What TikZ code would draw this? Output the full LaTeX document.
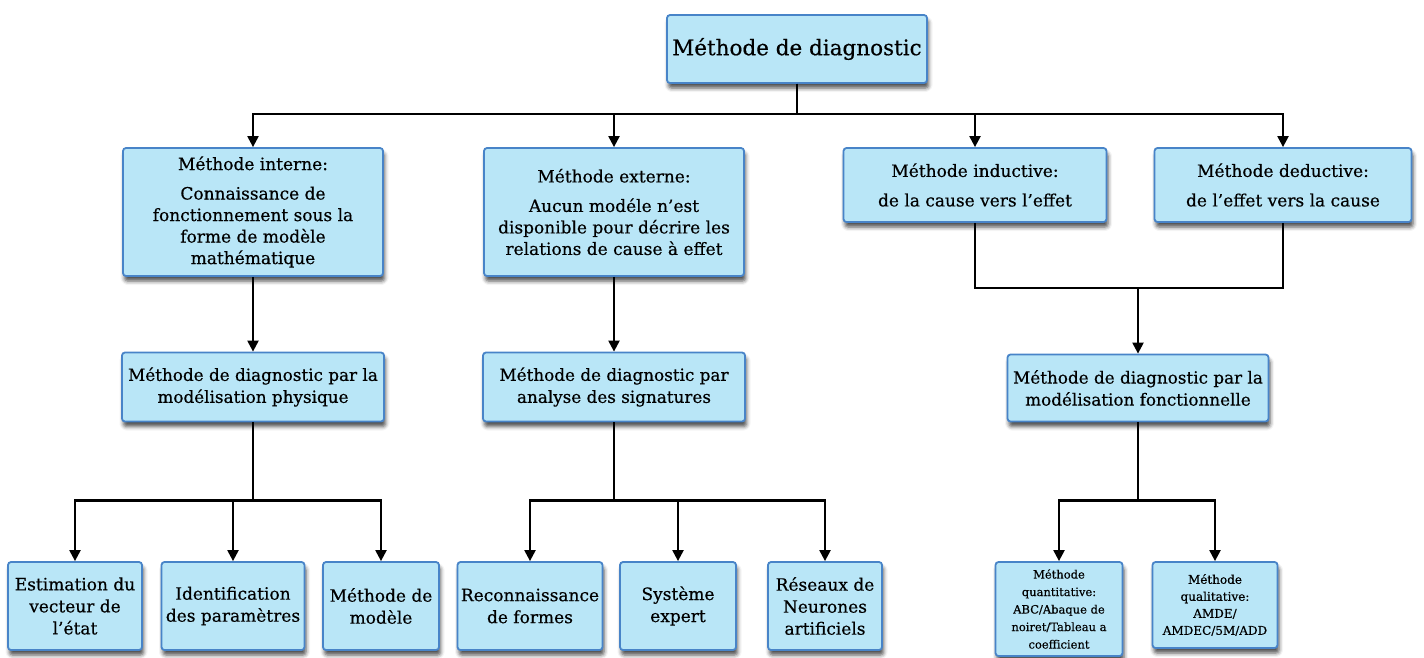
\documentclass[tikz,border=0pt]{standalone}
\usepackage{fontspec}
\setmainfont{DejaVu Serif}[FakeBold=0.5]
\usetikzlibrary{arrows.meta,shadows.blur}
\definecolor{boxfill}{RGB}{185,230,247}
\definecolor{boxline}{RGB}{72,132,200}

\begin{document}
\begin{tikzpicture}[x=1pt,y=-1pt,>={Triangle[length=11pt,width=11pt]}]
    \tikzstyle{every node}=[font=\fontsize{17}{21.5}\selectfont]
    \tikzstyle{box}=[draw=boxline,fill=boxfill,line width=1.8pt,rounded corners=3pt,
        align=center,inner sep=2pt,
        blur shadow={shadow xshift=1.5pt,shadow yshift=-5pt,shadow blur radius=4pt,shadow opacity=70}]
    \tikzstyle{link}=[line width=2.2pt]
    \useasboundingbox (0,0) rectangle (1424,657);
    %% Root
    \node at (797,49) [box,minimum width=260pt,minimum height=68pt,
        font=\fontsize{21.5}{26}\selectfont] (diag) {Méthode de diagnostic};
    %% First level
    \node at (253,212) [box,minimum width=260pt,minimum height=128pt] (interne)
        {Méthode interne:\\[8pt] Connaissance de\\ fonctionnement sous la\\ forme de modèle\\ mathématique};
    \node at (614,212) [box,minimum width=260pt,minimum height=128pt] (externe)
        {Méthode externe:\\[8pt] Aucun modéle n’est\\ disponible pour décrire les\\ relations de cause à effet};
    \node at (975,185) [box,minimum width=263pt,minimum height=74pt] (induc)
        {Méthode inductive:\\[8pt] de la cause vers l’effet};
    \node at (1283,185) [box,minimum width=257pt,minimum height=74pt] (deduc)
        {Méthode deductive:\\[8pt] de l’effet vers la cause};
    %% Second level
    \tikzstyle{mid}=[box,minimum width=262pt,minimum height=69pt,font=\fontsize{16.8}{22}\selectfont]
    \node at (253,387) [mid] (physique) {Méthode de diagnostic par la\\ modélisation physique};
    \node at (614,387) [mid] (signat) {Méthode de diagnostic par\\ analyse des signatures};
    \node at (1138,388) [mid,minimum width=261pt,minimum height=67pt] (fonction)
        {Méthode de diagnostic par la\\ modélisation fonctionnelle};
    %% Leaves
    \tikzstyle{leaf}=[box,minimum height=88pt,font=\fontsize{17}{22}\selectfont]
    \node at (75,606) [leaf,minimum width=134pt] (estim) {Estimation du\\ vecteur de\\ l’état};
    \node at (233,606) [leaf,minimum width=143pt] (ident) {Identification\\ des paramètres};
    \node at (381,606) [leaf,minimum width=116pt] (modele) {Méthode de\\ modèle};
    \node at (530,606) [leaf,minimum width=145pt] (reconn) {Reconnaissance\\ de formes};
    \node at (678,606) [leaf,minimum width=116pt] (expert) {Système\\ expert};
    \node at (825,606) [leaf,minimum width=114pt] (neurones) {Réseaux de\\ Neurones\\ artificiels};
    \node at (1059,609) [box,minimum width=127pt,minimum height=94pt,
        font=\fontsize{11.5}{17.5}\selectfont] (quanti)
        {Méthode\\ quantitative:\\ ABC/Abaque de\\ noiret/Tableau a\\ coefficient};
    \node at (1215,605) [box,minimum width=125pt,minimum height=86pt,
        font=\fontsize{12}{17}\selectfont] (quali)
        {Méthode\\ qualitative:\\ AMDE/\\ AMDEC/5M/ADD};

    %% Connectors
    \draw[link,->] (diag.south) -- ++(0,30) -| (interne.north);
    \draw[link,->] (diag.south) -- ++(0,30) -| (externe.north);
    \draw[link,->] (diag.south) -- ++(0,30) -| (induc.north);
    \draw[link,->] (diag.south) -- ++(0,30) -| (deduc.north);
    \draw[link,->] (interne) -- (physique);
    \draw[link,->] (externe) -- (signat);
    % inductive + deductive join
    \coordinate (join) at (1138,287);
    \draw[link] (induc.south) -- ++(0,65) -| (deduc.south);
    \draw[link,->] (join) -- (fonction);
    % leaves
    \foreach \leaf in {estim,ident,modele}
        \draw[link,->] (physique.south) -- ++(0,78) -| (\leaf.north);
    \foreach \leaf in {reconn,expert,neurones}
        \draw[link,->] (signat.south) -- ++(0,78) -| (\leaf.north);
    \foreach \leaf in {quanti,quali}
        \draw[link,->] (fonction.south) -- ++(0,78) -| (\leaf.north);
\end{tikzpicture}
\end{document}
